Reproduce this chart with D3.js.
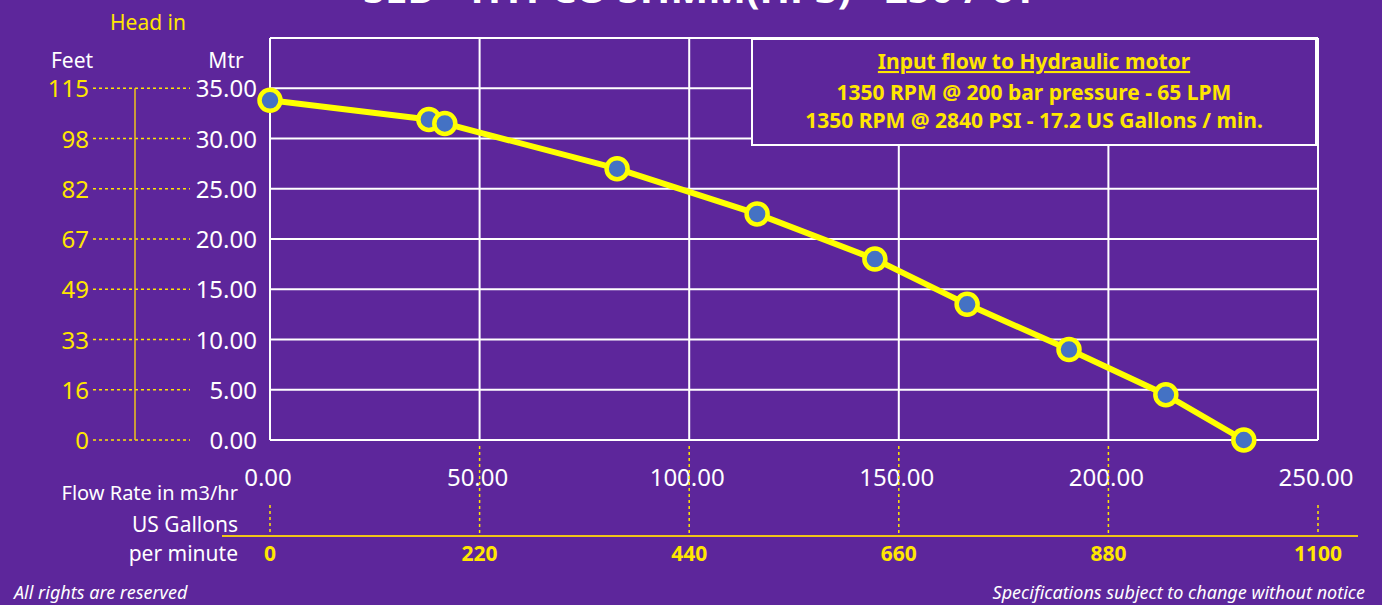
<!DOCTYPE html>
<html>
<head>
<meta charset="utf-8">
<script src="https://cdn.jsdelivr.net/npm/d3@7"></script>
<style>
  html, body { margin: 0; padding: 0; background: #5d269b; overflow: hidden; }
  text { font-family: "Noto Sans", sans-serif; }
</style>
</head>
<body>
<div id="chart"></div>
<script>
// pump curve data
const flowM3 = [0, 37.9, 41.7, 82.8, 116.2, 144.3, 166.3, 190.6, 213.7, 232.3];
const headMtr = [33.8, 31.9, 31.5, 27.0, 22.5, 18.0, 13.5, 9.0, 4.5, 0];

const mtrTicks = [0, 5, 10, 15, 20, 25, 30, 35];
const feetLabels = ["0", "16", "33", "49", "67", "82", "98", "115"];
const flowTicks = [0, 50, 100, 150, 200, 250];
const gallonLabels = ["0", "220", "440", "660", "880", "1100"];

const legendLines = [
  "1350 RPM @ 200 bar pressure - 65 LPM",
  "1350 RPM @ 2840 PSI - 17.2 US Gallons / min."
];

const width = 1382;
const height = 605;
const margin = { left: 270, right: 64, top: 38, bottom: 165 };
const yellow = "#ffe600";

const svg = d3.select("#chart")
  .append("svg")
  .attr("width", width)
  .attr("height", height);

svg.append("rect")
  .attr("width", width).attr("height", height)
  .attr("fill", "#5d269b");

const x = d3.scaleLinear()
  .domain([0, 250])
  .range([margin.left, width - margin.right]);

const y = d3.scaleLinear()
  .domain([0, 40])
  .range([height - margin.bottom, margin.top]);

// title (cut off at top, as in the source)
svg.append("text")
  .attr("x", 700).attr("y", 3)
  .attr("text-anchor", "middle")
  .attr("fill", "white")
  .attr("font-size", 40)
  .attr("font-weight", "bold")
  .text("SED - HYPCO SHMM(HP3) - 250 / 6T");

// grid
const grid = svg.append("g").attr("stroke", "white").attr("stroke-width", 2);
grid.selectAll(".h")
  .data([0, 5, 10, 15, 20, 25, 30, 35, 40])
  .enter().append("line")
  .attr("x1", x(0)).attr("x2", x(250))
  .attr("y1", d => y(d)).attr("y2", d => y(d));
grid.selectAll(".v")
  .data(flowTicks)
  .enter().append("line")
  .attr("x1", d => x(d)).attr("x2", d => x(d))
  .attr("y1", y(0)).attr("y2", y(40));

// left axis: metres
svg.selectAll(".mtr")
  .data(mtrTicks)
  .enter().append("text")
  .attr("x", 257).attr("y", d => y(d) + 9)
  .attr("text-anchor", "end")
  .attr("fill", "white")
  .attr("font-size", 24)
  .text(d => d.toFixed(2));

// feet labels
svg.selectAll(".feet")
  .data(mtrTicks)
  .enter().append("text")
  .attr("x", 89).attr("y", d => y(d) + 9)
  .attr("text-anchor", "end")
  .attr("fill", yellow)
  .attr("font-size", 24)
  .text((d, i) => feetLabels[i]);

svg.selectAll(".feetDots")
  .data(mtrTicks)
  .enter().append("line")
  .attr("x1", 93).attr("x2", 190)
  .attr("y1", d => y(d)).attr("y2", d => y(d))
  .attr("stroke", yellow)
  .attr("stroke-width", 1.5)
  .attr("stroke-dasharray", "3,3");

svg.append("line")
  .attr("x1", 135).attr("x2", 135)
  .attr("y1", y(35)).attr("y2", y(0))
  .attr("stroke", "#f0c419")
  .attr("stroke-width", 1.5);

svg.append("text").attr("x", 148).attr("y", 30)
  .attr("text-anchor", "middle").attr("fill", yellow).attr("font-size", 21)
  .text("Head in");
svg.append("text").attr("x", 72).attr("y", 68)
  .attr("text-anchor", "middle").attr("fill", "white").attr("font-size", 21)
  .text("Feet");
svg.append("text").attr("x", 226).attr("y", 68)
  .attr("text-anchor", "middle").attr("fill", "white").attr("font-size", 21)
  .text("Mtr");

// bottom axis: flow m3/hr
svg.selectAll(".flow")
  .data(flowTicks)
  .enter().append("text")
  .attr("x", d => x(d) - 2).attr("y", 486)
  .attr("text-anchor", "middle")
  .attr("fill", "white")
  .attr("font-size", 24)
  .text(d => d.toFixed(2));

svg.append("text").attr("x", 238).attr("y", 500)
  .attr("text-anchor", "end").attr("fill", "white").attr("font-size", 20)
  .text("Flow Rate in m3/hr");
svg.append("text").attr("x", 238).attr("y", 532)
  .attr("text-anchor", "end").attr("fill", "white").attr("font-size", 21)
  .text("US Gallons");
svg.append("text").attr("x", 238).attr("y", 561)
  .attr("text-anchor", "end").attr("fill", "white").attr("font-size", 21)
  .text("per minute");

// gallons axis
svg.selectAll(".galDots")
  .data(flowTicks)
  .enter().append("line")
  .attr("x1", d => x(d)).attr("x2", d => x(d))
  .attr("y1", d => (d === 0 || d === 250) ? 505 : 446)
  .attr("y2", 535)
  .attr("stroke", yellow)
  .attr("stroke-width", 1.5)
  .attr("stroke-dasharray", "3,3");

svg.append("line")
  .attr("x1", 222).attr("x2", 1358)
  .attr("y1", 536).attr("y2", 536)
  .attr("stroke", "#f0c419")
  .attr("stroke-width", 2);

svg.selectAll(".gal")
  .data(flowTicks)
  .enter().append("text")
  .attr("x", d => x(d)).attr("y", 561)
  .attr("text-anchor", "middle")
  .attr("fill", yellow)
  .attr("font-size", 21)
  .attr("font-weight", "bold")
  .text((d, i) => gallonLabels[i]);

// legend box
svg.append("rect")
  .attr("x", 752).attr("y", 39)
  .attr("width", 564).attr("height", 106)
  .attr("fill", "#5d269b")
  .attr("stroke", "white")
  .attr("stroke-width", 2);

svg.append("text")
  .attr("x", 1034).attr("y", 69)
  .attr("text-anchor", "middle")
  .attr("fill", yellow)
  .attr("font-size", 21)
  .attr("font-weight", "bold")
  .attr("text-decoration", "underline")
  .text("Input flow to Hydraulic motor");

svg.selectAll(".leg")
  .data(legendLines)
  .enter().append("text")
  .attr("x", 1034).attr("y", (d, i) => 100 + i * 28)
  .attr("text-anchor", "middle")
  .attr("fill", yellow)
  .attr("font-size", 21)
  .attr("font-weight", "bold")
  .text(d => d);

// curve
const pts = flowM3.map((f, i) => [f, headMtr[i]]);

svg.append("path")
  .datum(pts)
  .attr("fill", "none")
  .attr("stroke", "#ffff00")
  .attr("stroke-width", 6)
  .attr("stroke-linejoin", "round")
  .attr("d", d3.line()
    .x(d => x(d[0]))
    .y(d => y(d[1])));

svg.selectAll(".pt")
  .data(pts)
  .enter().append("circle")
  .attr("cx", d => x(d[0]))
  .attr("cy", d => y(d[1]))
  .attr("r", 10.5)
  .attr("fill", "#4472c4")
  .attr("stroke", "#ffff00")
  .attr("stroke-width", 4.5);

// footer
svg.append("text").attr("x", 14).attr("y", 599)
  .attr("fill", "white").attr("font-size", 18).attr("font-style", "italic")
  .text("All rights are reserved");
svg.append("text").attr("x", 1365).attr("y", 599)
  .attr("text-anchor", "end")
  .attr("fill", "white").attr("font-size", 18).attr("font-style", "italic")
  .text("Specifications subject to change without notice");
</script>
</body>
</html>
